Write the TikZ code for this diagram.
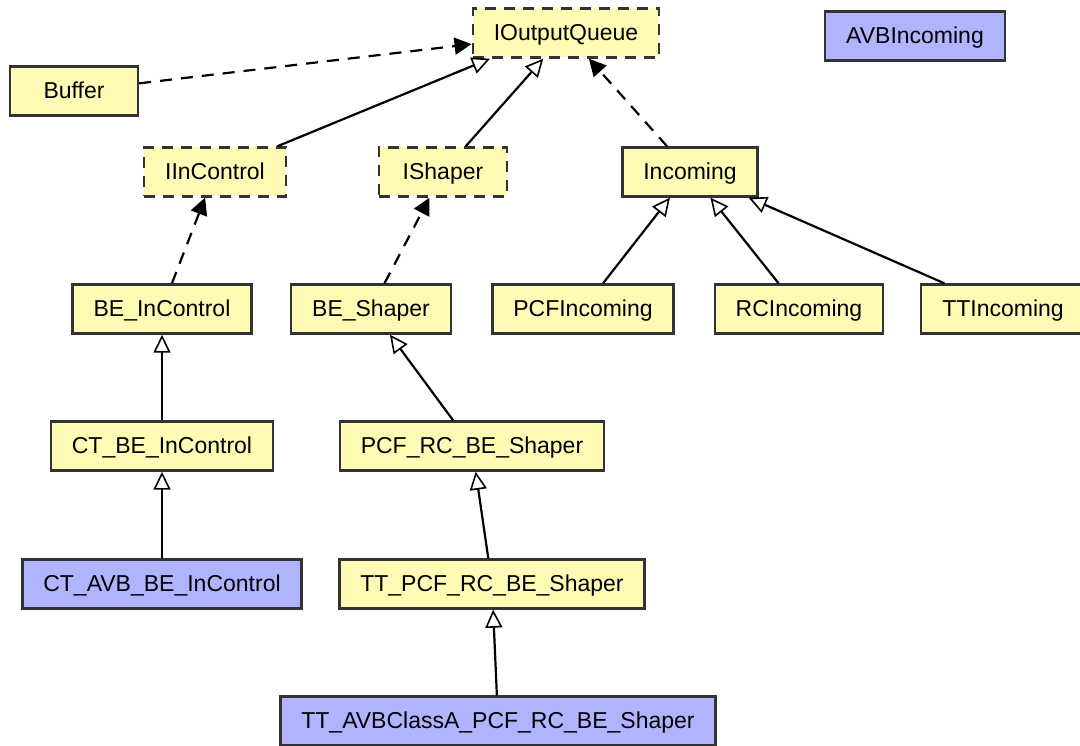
\documentclass[tikz,border=0pt]{standalone}
\usepackage{fontspec}
\setmainfont{Liberation Sans}
\usetikzlibrary{arrows.meta}
\definecolor{classyellow}{HTML}{FFFBB4}
\definecolor{classblue}{HTML}{B0B4FF}
\definecolor{classborder}{HTML}{333333}

\begin{document}
\begin{tikzpicture}[x=1pt, y=-1pt,
        cls/.style={draw=classborder, line width=2.4pt, fill=classyellow,
            minimum width=128pt, minimum height=49pt, inner xsep=21pt,
            text height=16.5pt, text depth=1.5pt,
            font=\fontsize{23}{26}\selectfont},
        iface/.style={cls, dash pattern=on 11pt off 8pt},
        avbcls/.style={cls, fill=classblue},
        inherit/.style={line width=2.2pt,
            -{Triangle[open, length=18pt, width=17pt, line width=1.6pt]}},
        uses/.style={line width=2.2pt, dash pattern=on 12pt off 9pt,
            -{Triangle[length=17pt, width=17pt]}}]
        \useasboundingbox (0,0) rectangle (1080,746);

        % interfaces and base classes
        \node[iface] (oq) at (566,33) {IOutputQueue};
        \node[avbcls] (avbin) at (915,36) {AVBIncoming};
        \node[cls] (buf) at (74,91) {Buffer};
        \node[iface] (inctl) at (215,172) {IInControl};
        \node[iface] (shp) at (443,172) {IShaper};
        \node[cls] (inc) at (690,172) {Incoming};

        % implementations
        \node[cls] (beinctl) at (162,309) {BE\_InControl};
        \node[cls] (beshp) at (371,309) {BE\_Shaper};
        \node[cls] (pcfinc) at (583,309) {PCFIncoming};
        \node[cls] (rcinc) at (799,309) {RCIncoming};
        \node[cls] (ttinc) at (1003,309) {TTIncoming};

        \node[cls] (ctbe) at (162,446) {CT\_BE\_InControl};
        \node[cls] (pcfrc) at (472,446) {PCF\_RC\_BE\_Shaper};
        \node[avbcls] (ctavb) at (162,584) {CT\_AVB\_BE\_InControl};
        \node[cls] (ttpcf) at (492,584) {TT\_PCF\_RC\_BE\_Shaper};
        \node[avbcls] (ttavb) at (498,721) {TT\_AVBClassA\_PCF\_RC\_BE\_Shaper};

        \draw[uses] (buf) -- (oq);
        \draw[inherit] (inctl) -- ([xshift=-76pt]oq.south);
        \draw[inherit] (shp) -- (oq);
        \draw[uses] (inc) -- (oq);

        \draw[uses] (beinctl) -- (inctl);
        \draw[uses] (beshp) -- (shp);
        \draw[inherit] (pcfinc) -- (inc);
        \draw[inherit] (rcinc) -- (inc);
        \draw[inherit] (ttinc) -- (inc);

        \draw[inherit] (ctbe) -- (beinctl);
        \draw[inherit] (pcfrc) -- (beshp);
        \draw[inherit] (ctavb) -- (ctbe);
        \draw[inherit] (ttpcf) -- (pcfrc);
        \draw[inherit] (ttavb) -- (ttpcf);
\end{tikzpicture}
\end{document}
